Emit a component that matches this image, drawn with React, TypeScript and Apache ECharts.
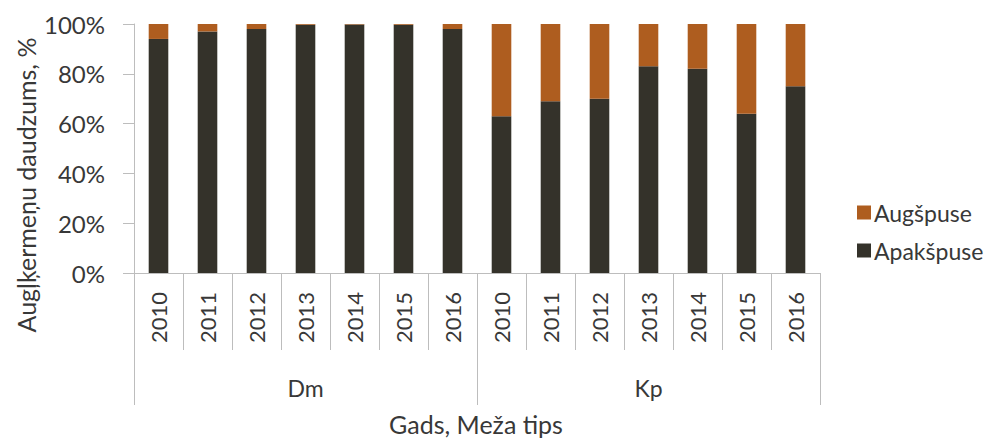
import React, { useEffect, useRef } from "react";
import * as echarts from "echarts";

const years = ["2010", "2011", "2012", "2013", "2014", "2015", "2016", "2010", "2011", "2012", "2013", "2014", "2015", "2016"];
const groups = ["Dm", "Kp"];
const apakspuse = [94, 97, 98, 99.7, 99.8, 99.7, 98, 63, 69, 70, 83, 82, 64, 75];
const augspuse = [6, 3, 2, 0.3, 0.2, 0.3, 2, 37, 31, 30, 17, 18, 36, 25];
const yTicks = [0, 20, 40, 60, 80, 100];

const FONT = "Lato";
const TXT = "#383838";
const AXIS = "#BDBDBD";
const ORANGE = "#AE5D1F";
const DARK = "#34322A";

export default function App() {
  const ref = useRef<HTMLDivElement>(null);
  useEffect(() => {
    if (!ref.current) return;
    const chart = echarts.init(ref.current, undefined, { renderer: "svg" });
    chart.setOption({
      animation: false,
      backgroundColor: "#ffffff",
      textStyle: { fontFamily: FONT },
      grid: { left: 134, right: 169, top: 24, bottom: 165, containLabel: false },
      legend: {
        orient: "vertical",
        left: 852,
        top: 196,
        itemWidth: 14,
        itemHeight: 14,
        itemGap: 15,
        data: ["Augšpuse", "Apakšpuse"],
        textStyle: { fontFamily: FONT, fontSize: 23, color: TXT, padding: [0, 0, 0, -2] },
        icon: "rect",
      },
      xAxis: [
        {
          type: "category",
          data: years,
          position: "bottom",
          axisLine: { show: true, lineStyle: { color: AXIS, width: 1 } },
          axisTick: { show: true, interval: 0, length: 77, alignWithLabel: false, lineStyle: { color: AXIS } },
          axisLabel: {
            interval: 0,
            rotate: 90,
            margin: 19,
            fontFamily: FONT,
            fontSize: 22,
            color: TXT,
          },
          splitLine: { show: false },
        },
        {
          type: "category",
          data: groups,
          position: "bottom",
          axisLine: { show: false },
          axisTick: { show: true, interval: 0, length: 132, alignWithLabel: false, lineStyle: { color: AXIS } },
          axisLabel: { interval: 0, margin: 103, fontFamily: FONT, fontSize: 23, color: TXT },
          splitLine: { show: false },
        },
      ],
      yAxis: {
        type: "value",
        min: 0,
        max: 100,
        interval: 20,
        axisLine: { show: true, lineStyle: { color: AXIS } },
        axisTick: { show: true, length: 11, lineStyle: { color: AXIS } },
        splitLine: { show: false },
        axisLabel: {
          margin: 29,
          fontFamily: FONT,
          fontSize: 24,
          color: TXT,
          formatter: (v: number) => (yTicks.includes(v) ? v + "%" : ""),
        },
      },
      graphic: [
        {
          type: "text",
          x: 26,
          y: 185,
          rotation: Math.PI / 2,
          style: {
            text: "Augļķermeņu daudzums, %",
            fontFamily: FONT,
            fontSize: 25,
            fill: TXT,
            align: "center",
            verticalAlign: "middle",
          },
        },
        {
          type: "text",
          x: 476,
          y: 424,
          style: {
            text: "Gads, Meža tips",
            fontFamily: FONT,
            fontSize: 25,
            fill: TXT,
            align: "center",
            verticalAlign: "middle",
          },
        },
      ],
      series: [
        {
          name: "Apakšpuse",
          type: "bar",
          stack: "total",
          xAxisIndex: 0,
          barWidth: "40%",
          data: apakspuse,
          itemStyle: { color: DARK },
        },
        {
          name: "Augšpuse",
          type: "bar",
          stack: "total",
          xAxisIndex: 0,
          barWidth: "40%",
          data: augspuse,
          itemStyle: { color: ORANGE },
        },
      ],
    });
    return () => chart.dispose();
  }, []);
  return <div ref={ref} style={{ width: 989, height: 438, position: "absolute", left: 0, top: 0 }} />;
}
